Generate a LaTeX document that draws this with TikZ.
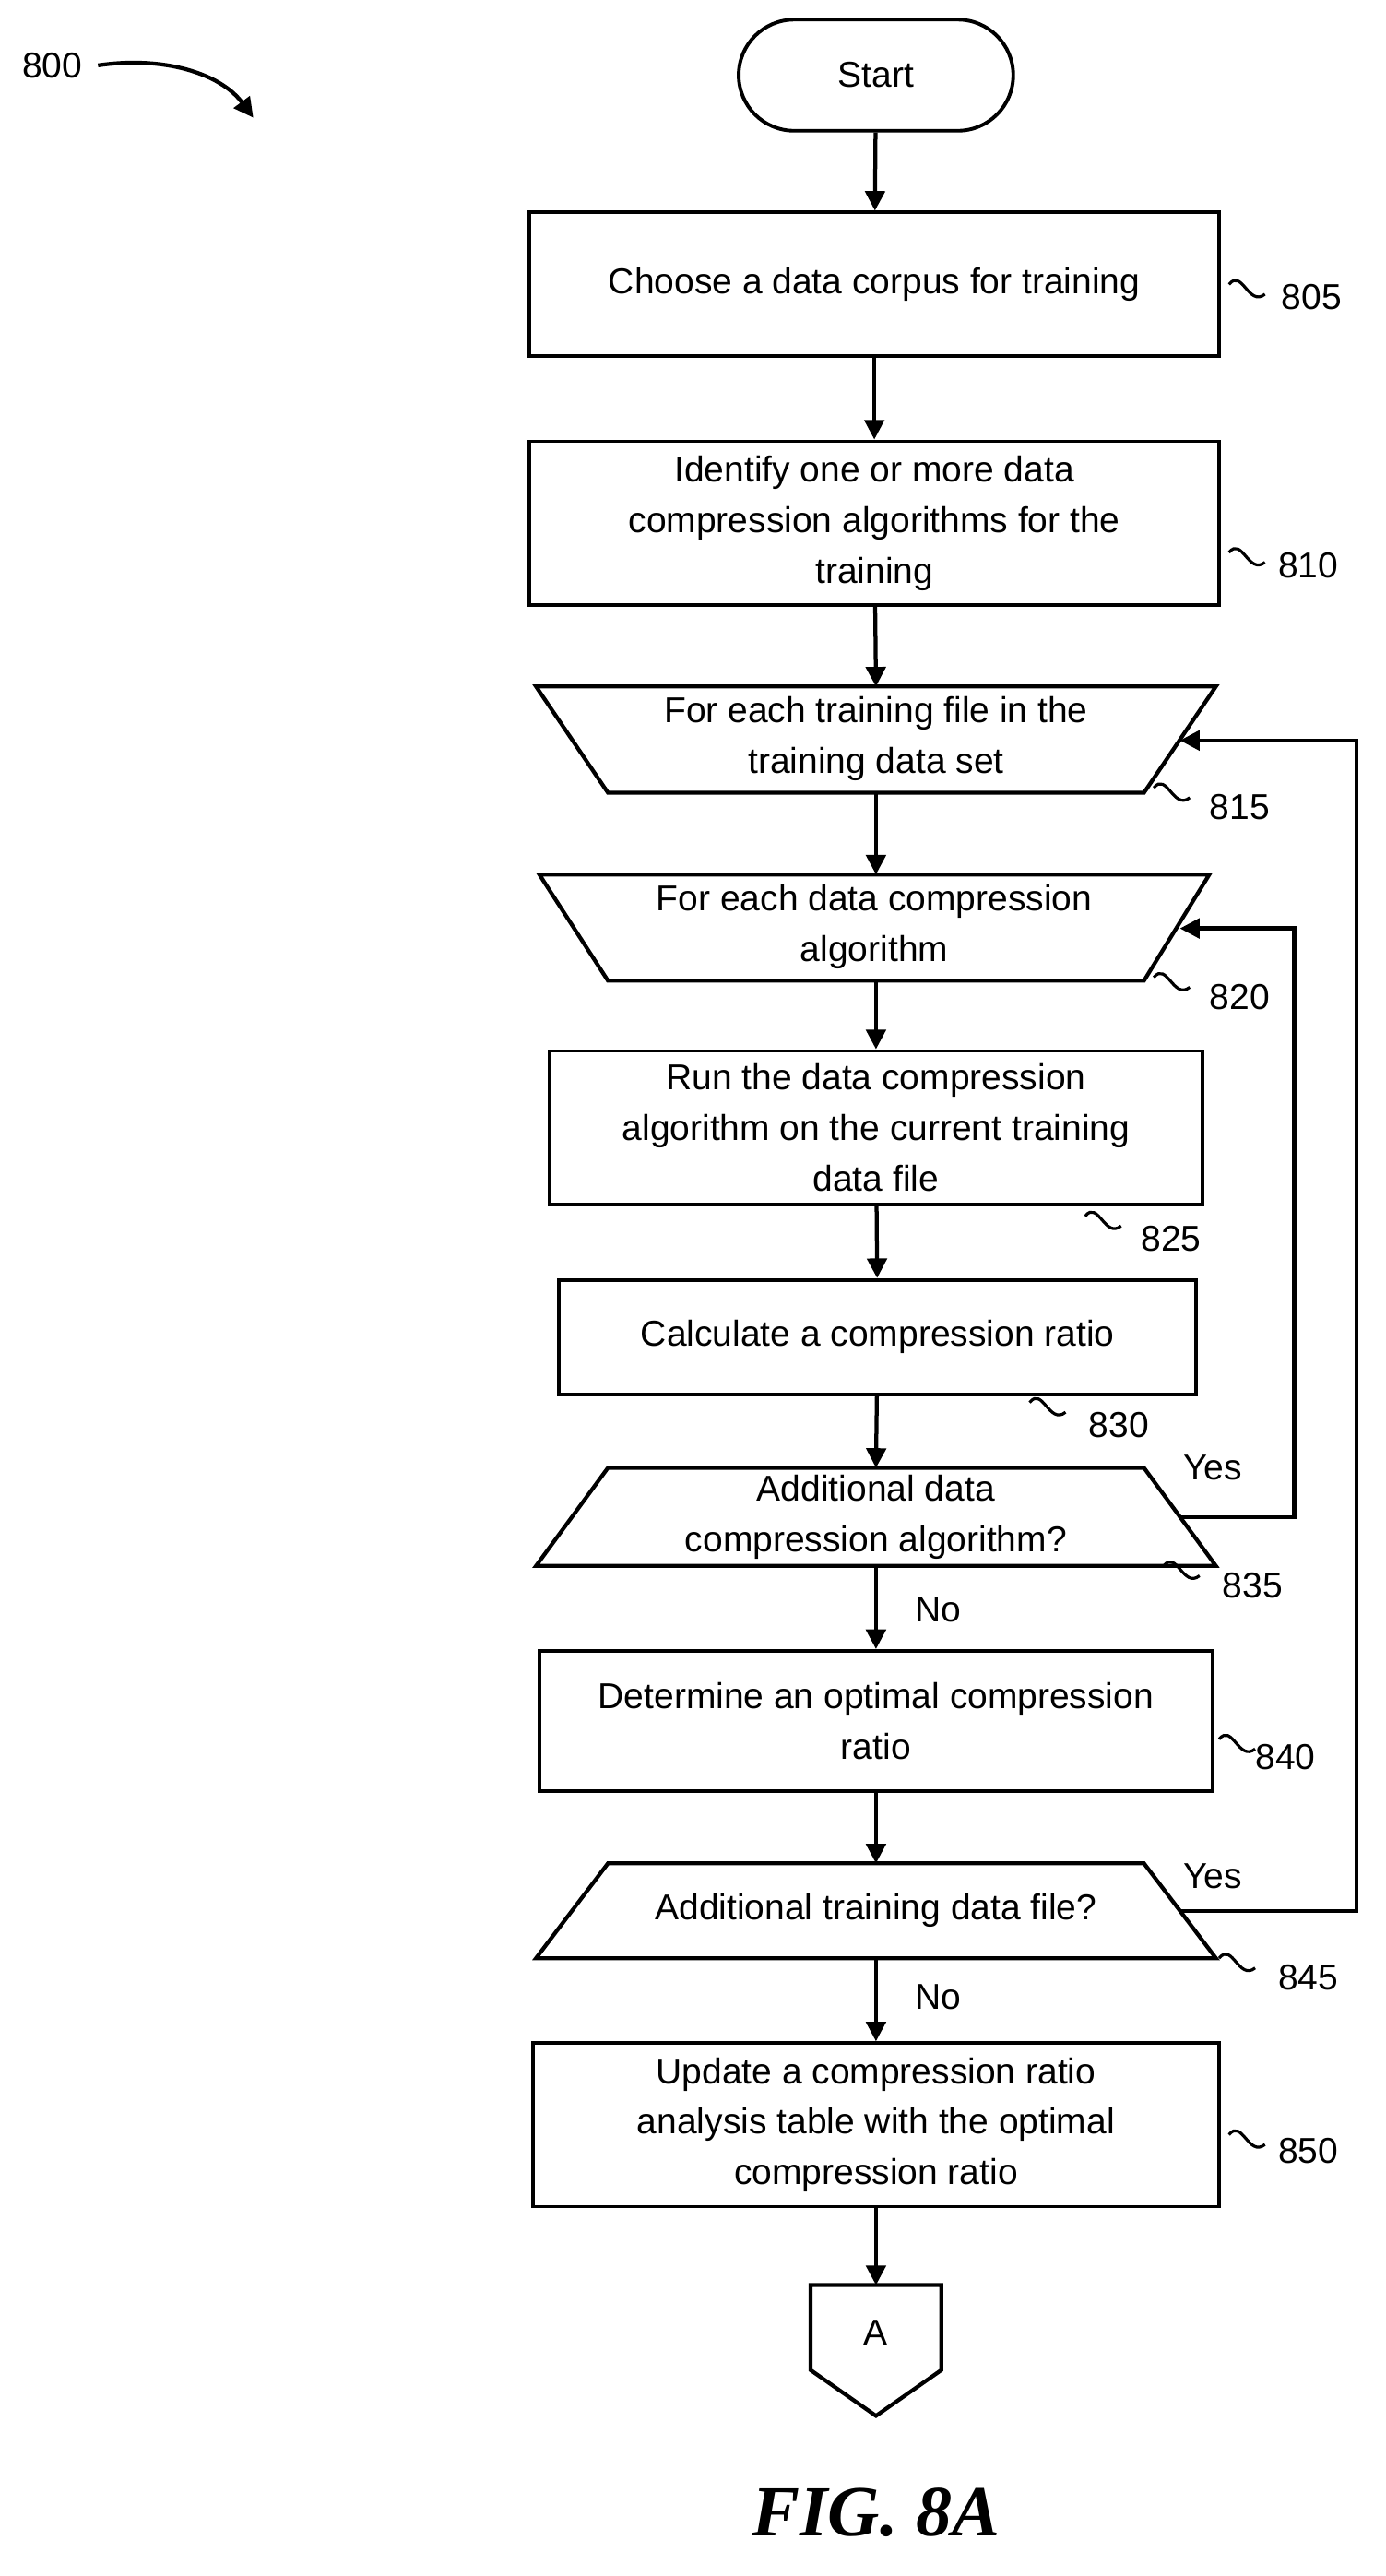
\documentclass[tikz,border=0pt]{standalone}
\usepackage{fontspec}
\setmainfont{Liberation Sans}
\newfontfamily\figfont{Liberation Serif}
\usetikzlibrary{arrows.meta}
\begin{document}
\begin{tikzpicture}[x=1pt,y=-1pt,
  every node/.style={font=\fontsize{22}{31}\selectfont, align=center, inner sep=0pt},
  box/.style={draw, line width=2.2pt, minimum width=#1, fill=white},
  ghost/.style={minimum width=#1},
  ln/.style={line width=2.4pt},
  arr/.style={ln, -{Triangle[length=12pt,width=12pt]}},
  sq/.style={line width=1.8pt},
  lab/.style={anchor=west}]
\useasboundingbox (0,0) rectangle (848,1576);
% start
\node[draw, line width=2.2pt, rounded corners=34pt, minimum width=168pt, minimum height=68pt] (start) at (536,46) {Start};
% boxes
\node[box=422pt, minimum height=88pt] (b805) at (535,174) {Choose a data corpus for training};
\node[box=422pt, minimum height=100pt] (b810) at (535,320) {Identify one or more data\\compression algorithms for the\\training};
% trapezoids (ghost nodes)
\node[minimum width=372pt, minimum height=65pt] (t815) at (536,452) {For each training file in the\\training data set};
\draw[ln] (328,420) -- (744,420) -- (700,485) -- (372,485) -- cycle;
\node[minimum width=372pt, minimum height=65pt] (t820) at (535,567) {For each data compression\\algorithm};
\draw[ln] (330,535) -- (740,535) -- (700,600) -- (372,600) -- cycle;
\node[box=400pt, minimum height=94pt] (b825) at (536,690) {Run the data compression\\algorithm on the current training\\data file};
\node[box=390pt, minimum height=70pt] (b830) at (537,818) {Calculate a compression ratio};
\node[minimum width=372pt, minimum height=60pt] (t835) at (536,928) {Additional data\\compression algorithm?};
\draw[ln] (372,898) -- (700,898) -- (744,958) -- (328,958) -- cycle;
\node[box=412pt, minimum height=86pt] (b840) at (536,1053) {Determine an optimal compression\\ratio};
\node[minimum width=372pt, minimum height=58pt] (t845) at (536,1169) {Additional training data file?};
\draw[ln] (372,1140) -- (700,1140) -- (744,1198) -- (328,1198) -- cycle;
\node[box=420pt, minimum height=100pt] (b850) at (536,1300) {Update a compression ratio\\analysis table with the optimal\\compression ratio};
% off-page connector
\node[minimum width=80pt, minimum height=80pt] (A) at (536,1438) {};
\draw[ln] (496,1398) -- (576,1398) -- (576,1450) -- (536,1478) -- (496,1450) -- cycle;
\node at (536,1427) {A};
% vertical connectors
\draw[arr] (start) -- (b805);
\draw[arr] (b805) -- (b810);
\draw[arr] (b810) -- (536,420);
\draw[arr] (536,485) -- (536,535);
\draw[arr] (536,600) -- (b825);
\draw[arr] (b825) -- (b830);
\draw[arr] (b830) -- (536,898);
\draw[arr] (536,958) -- (b840);
\draw[arr] (b840) -- (536,1140);
\draw[arr] (536,1198) -- (b850);
\draw[arr] (b850) -- (536,1398);
% loops
\coordinate (y1) at (722,928);
\coordinate (y2) at (722,1169);
\draw[arr] (y1) -- (792,928) -- (792,568) -- (722,568);
\draw[arr] (y2) -- (830,1169) -- (830,453) -- (722,453);
\node[lab] at (724,898) {Yes};
\node[lab] at (724,1148) {Yes};
\node[lab] at (560,985) {No};
\node[lab] at (560,1222) {No};
% ref labels with squiggles
\newcommand\squig[2]{\draw[sq] (#1,#2) .. controls (#1+8,#2-10) and (#1+12,#2+14) .. (#1+22,#2+6);}
\squig{752}{174}\node[lab] at (784,182) {805};
\squig{752}{338}\node[lab] at (782,346) {810};
\squig{706}{482}\node[lab] at (740,494) {815};
\squig{706}{598}\node[lab] at (740,610) {820};
\squig{664}{744}\node[lab] at (698,758) {825};
\squig{630}{858}\node[lab] at (666,872) {830};
\squig{712}{958}\node[lab] at (748,970) {835};
\squig{746}{1064}\node[lab] at (768,1075) {840};
\squig{746}{1198}\node[lab] at (782,1210) {845};
\squig{752}{1306}\node[lab] at (782,1316) {850};
% 800
\node (n800) at (32,40) {800};
\draw[ln, -{Triangle[length=12pt,width=12pt]}] (60,40) .. controls (100,34) and (135,45) .. (155,72);
% fig caption
\node[font=\figfont\bfseries\itshape\fontsize{44}{50}\selectfont] at (536,1537) {FIG. 8A};
\end{tikzpicture}
\end{document}
